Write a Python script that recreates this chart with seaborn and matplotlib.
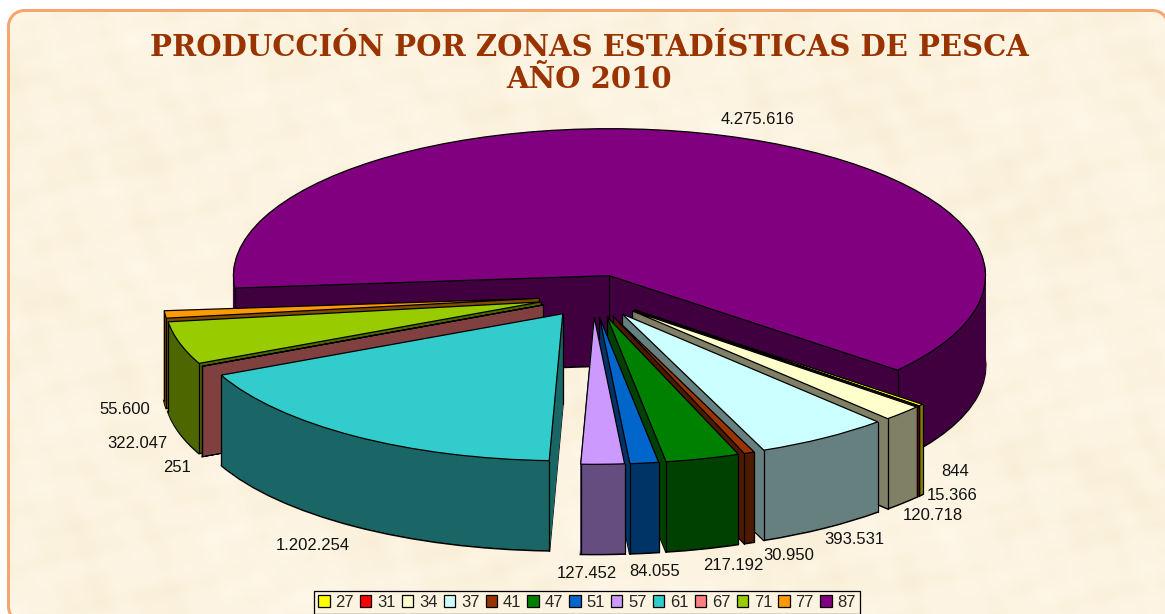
import numpy as np
import pandas as pd
import matplotlib
matplotlib.use('Agg')
import matplotlib.pyplot as plt
import seaborn as sns
from matplotlib.patches import Patch

# ================= DATOS =================
zonas = ['27', '31', '34', '37', '41', '47', '51', '57', '61', '67', '71', '77', '87']
toneladas = [15366, 844, 120718, 393531, 30950, 217192, 84055, 127452, 1202254, 251, 322047, 55600, 4275616]
colores = ['#ffff00', '#ff0000', '#ffffcc', '#ccffff', '#993300', '#008000', '#0066cc',
           '#cc99ff', '#33cccc', '#ff8080', '#99cc00', '#ff9900', '#800080']

# posicion de las etiquetas en pixeles de la imagen
etq_x = [952, 955, 933, 854, 789, 733, 655, 587, 313, 177, 137, 125, 758]
etq_y = [496, 472, 515, 540, 556, 565, 572, 574, 546, 467, 443, 410, 120]

df = pd.DataFrame({'zona': zonas, 'toneladas': toneladas, 'color': colores})

# ================= CONFIGURACION =================
W, H = 1165, 614
CX, CY = 593, 296      # centro de la tarta
RX, RY = 376, 147      # radios de la elipse
DEPTH = 90             # grosor en pixeles
EXPLODE = 0.145
START = -40

sns.set_theme(style='white')
plt.rcParams['font.family'] = ['Liberation Sans', 'DejaVu Sans']

fig = plt.figure(figsize=(W / 100, H / 100), dpi=100, facecolor='white')
ax = fig.add_axes([0, 0, 1, 1])

xlim = (-CX / RX, (W - CX) / RX)
ylim = ((CY - H) / RY, CY / RY)
dy = 1 / RY


def px(x, y):
    return (x - CX) / RX, (CY - y) / RY


# ================= FONDO =================
yy, xx = np.mgrid[0:H, 0:W]
manchas = (np.sin(xx / 23 + np.sin(yy / 31) * 2) * np.sin(yy / 19 + np.sin(xx / 41) * 2)
           + 0.6 * np.sin(xx / 9 + yy / 13) * np.sin(yy / 7 - xx / 17)
           + 0.4 * np.sin(xx / 61 - yy / 37))
manchas = manchas / np.abs(manchas).max()
base = np.array([252, 243, 224]) / 255
var = np.array([3, 4, 9]) / 255
fondo = np.clip(base[None, None, :] + manchas[:, :, None] * var, 0, 1)

# marco redondeado, se sale por la derecha y por abajo
izq, arr, der, aba, radio = 8, 10, 1168, 622, 16
qx = np.abs(xx - (izq + der) / 2) - ((der - izq) / 2 - radio)
qy = np.abs(yy - (arr + aba) / 2) - ((aba - arr) / 2 - radio)
dist = np.hypot(np.maximum(qx, 0), np.maximum(qy, 0)) + np.minimum(np.maximum(qx, qy), 0) - radio

borde = np.array([245, 165, 111]) / 255
a_borde = np.clip(2.0 - np.abs(dist), 0, 1)[:, :, None]
a_fuera = np.clip(dist, 0, 1)[:, :, None]
fondo = fondo * (1 - a_fuera) + a_fuera
fondo = fondo * (1 - a_borde) + borde * a_borde
ax.imshow(fondo, extent=(xlim[0], xlim[1], ylim[0], ylim[1]), origin='upper', aspect='auto', zorder=0)

# ================= TARTA 3D =================
paleta = sns.color_palette(df['color'].tolist())
oscuros = [tuple(np.array(c) * 0.5) for c in paleta]

# orden de pintado, de atras hacia delante
probe, *_ = ax.pie(df['toneladas'], startangle=START, counterclock=False)
medios = [np.deg2rad((w.theta1 + w.theta2) / 2) for w in probe]
orden = np.argsort(np.argsort(-np.sin(medios)))
for w in probe:
    w.remove()

for d in range(DEPTH, 0, -1):
    wedges, *_ = ax.pie(df['toneladas'], explode=[EXPLODE] * len(df), startangle=START, counterclock=False,
                        colors=oscuros, center=(0, -d * dy))
    for w, r, c in zip(wedges, orden, oscuros):
        w.set_zorder(10 + r * 3)
        # con borde propio las porciones muy finas siguen viendose
        w.set_edgecolor('black' if d == DEPTH else c)
        w.set_linewidth(1.5 if d == DEPTH else 0.7)

tapas, *_ = ax.pie(df['toneladas'], explode=[EXPLODE] * len(df), startangle=START, counterclock=False,
                   colors=paleta, center=(0, 0), wedgeprops={'edgecolor': 'black', 'linewidth': 0.9})
for w, r in zip(tapas, orden):
    w.set_zorder(12 + r * 3)
    # aristas verticales del bloque
    cx, cy = w.center
    for xe, ye in [(cx, cy),
                   (cx + np.cos(np.deg2rad(w.theta1)), cy + np.sin(np.deg2rad(w.theta1))),
                   (cx + np.cos(np.deg2rad(w.theta2)), cy + np.sin(np.deg2rad(w.theta2)))]:
        ax.plot([xe, xe], [ye, ye - DEPTH * dy], color='black', lw=0.9, zorder=11 + r * 3)

ax.set_aspect('auto')
ax.set_xlim(xlim)
ax.set_ylim(ylim)
ax.axis('off')

# ================= TEXTOS =================
for valor, ex, ey in zip(df['toneladas'], etq_x, etq_y):
    xt, yt = px(ex, ey)
    ax.text(xt, yt, f'{valor:,}'.replace(',', '.'), ha='center', va='center', fontsize=12,
            color='#111111', zorder=100)

for linea, ly in [('PRODUCCIÓN POR ZONAS ESTADÍSTICAS DE PESCA', 47), ('AÑO 2010', 80)]:
    xt, yt = px(589, ly)
    ax.text(xt, yt, linea, ha='center', va='center', fontsize=21, fontweight='bold',
            family='DejaVu Serif', color='#993300', zorder=100)

# ================= LEYENDA =================
handles = [Patch(facecolor=c, edgecolor='black', linewidth=0.9) for c in paleta]
leg = ax.legend(handles, df['zona'], ncol=len(df), loc='lower left',
                bbox_to_anchor=(314 / W, (H - 614) / H), bbox_transform=fig.transFigure,
                fontsize=12, frameon=True, fancybox=False, framealpha=1,
                facecolor='#fcf3e0', edgecolor='black',
                handlelength=0.68, handleheight=0.68, handletextpad=0.35, columnspacing=0.37,
                borderpad=0.25, borderaxespad=0, labelspacing=0)
leg.get_frame().set_linewidth(0.9)
leg.set_zorder(100)

plt.savefig('out.png', dpi=100, facecolor='white')
